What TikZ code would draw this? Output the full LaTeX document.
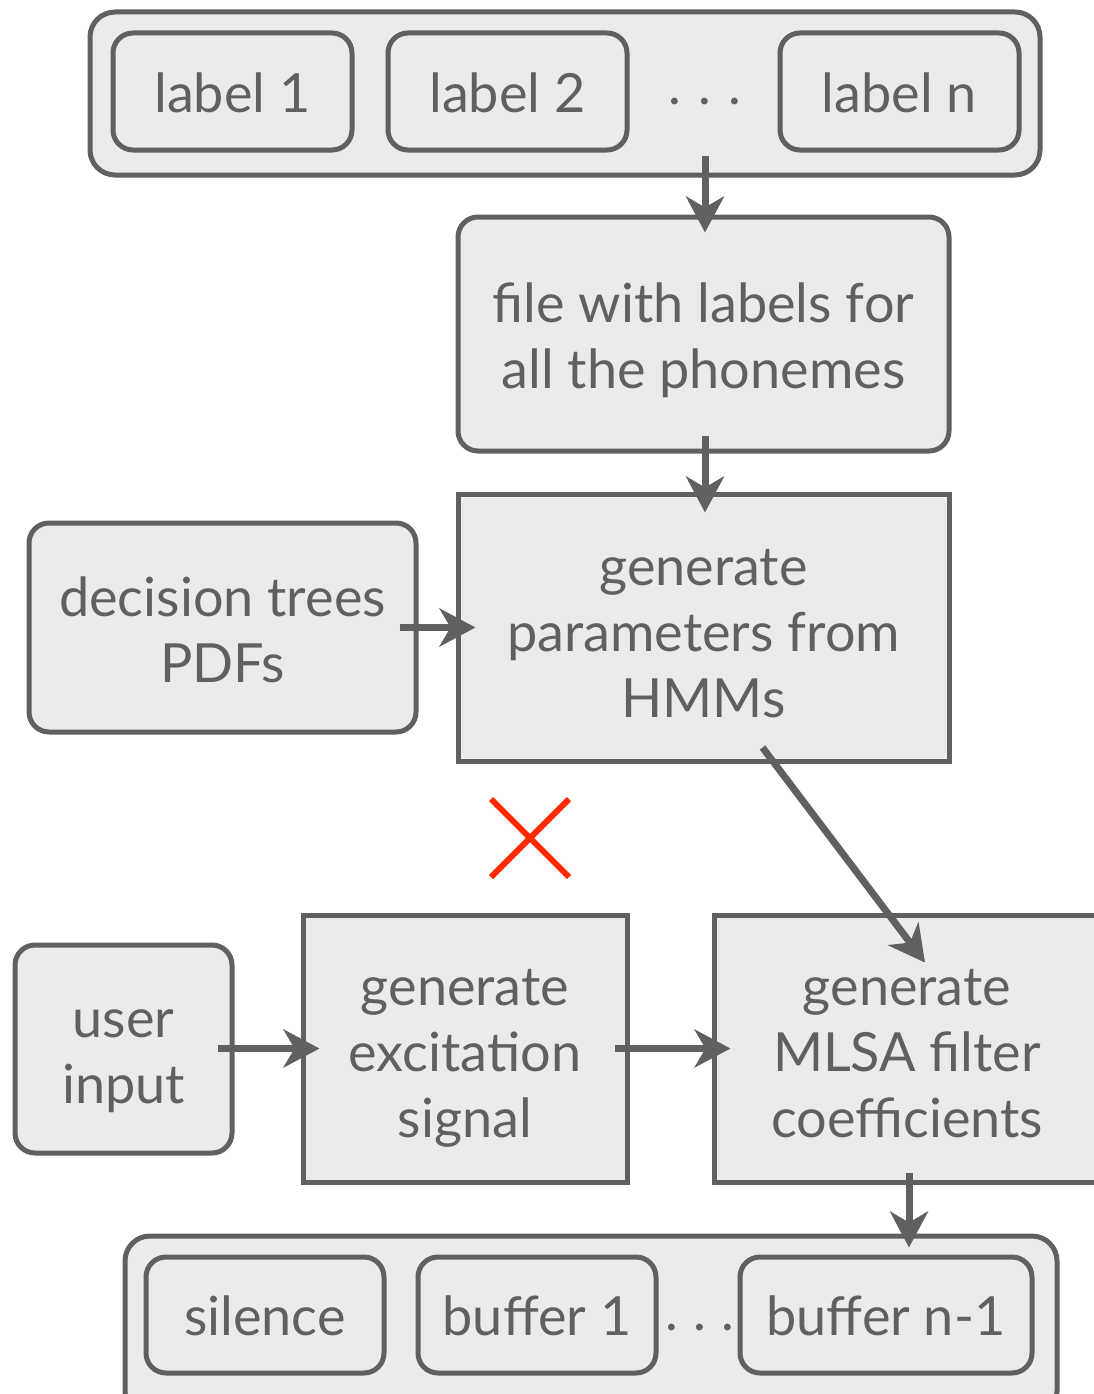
\documentclass[tikz,border=0pt]{standalone}
\usepackage{fontspec}
\setmainfont{Lato}
\usetikzlibrary{arrows.meta}
\definecolor{ink}{HTML}{606060}
\definecolor{boxfill}{HTML}{EBEBEB}
\definecolor{xred}{HTML}{FF2A00}
\begin{document}
\begin{tikzpicture}[x=1pt,y=-1pt,
  base/.style={draw=ink, fill=boxfill, line width=5pt, inner sep=0pt},
  lab/.style={text=ink, inner sep=0pt, align=center, font=\fontsize{54}{66}\selectfont},
  rbox/.style={base, rounded corners=20pt},
  sbox/.style={base},
  txt/.style 2 args={label={[lab, yshift=-#1]center:{#2}}},
  obox/.style={base, rounded corners=25pt},
  dots/.style={text=ink, inner sep=0pt, font=\fontsize{54}{66}\selectfont},
  arr/.style={draw=ink, line width=7pt, -{Stealth[length=36pt,width=38pt,inset=11pt]}}]
\useasboundingbox (0,0) rectangle (1094,1394);
% top group
\node[obox, minimum width=950, minimum height=163] (top) at (565,93.5) {};
\node[rbox, minimum width=239, minimum height=117, txt={1pt}{label 1}] (l1) at (232.5,91.5) {};
\node[rbox, minimum width=239, minimum height=117, txt={1pt}{label 2}] (l2) at (507.5,91.5) {};
\node[dots] (d1) at (705,102) {.\hspace{17pt}.\hspace{17pt}.};
\node[rbox, minimum width=239, minimum height=117, txt={1pt}{label n}] (ln) at (899.5,91.5) {};
% file
\node[rbox, minimum width=491, minimum height=234, txt={6pt}{file with labels for\\all the phonemes}] (file) at (703.5,334) {};
% params
\node[sbox, minimum width=491, minimum height=267, txt={6pt}{generate\\parameters from\\HMMs}] (par) at (703.5,627.5) {};
% decision
\node[rbox, minimum width=387, minimum height=209, txt={2pt}{decision trees\\PDFs}] (dec) at (222.5,627.5) {};
% red cross
\draw[xred, line width=6pt] (491,799) -- (569,877) (491,877) -- (569,799);
% bottom row
\node[rbox, minimum width=217, minimum height=208, txt={12pt}{user\\input}] (usr) at (123.5,1049) {};
\node[sbox, minimum width=324, minimum height=267, txt={10pt}{generate\\excitation\\signal}] (exc) at (465,1048.5) {};
\node[sbox, minimum width=386, minimum height=267, txt={5pt}{generate\\MLSA filter\\coefficients}] (mlsa) at (907,1048.5) {};
% bottom group
\node[obox, minimum width=932, minimum height=180] (bot) at (591,1326) {};
\node[rbox, minimum width=238, minimum height=116, txt={1pt}{silence}] (sil) at (265,1315) {};
\node[rbox, minimum width=238, minimum height=116, txt={1pt}{buffer 1}] (b1) at (537,1315) {};
\node[dots] (d2) at (700,1327) {.\hspace{15pt}.\hspace{15pt}.};
\node[rbox, minimum width=292, minimum height=116, txt={1pt}{buffer n-1}] (bn) at (886,1315) {};
% arrows
\draw[arr] ([yshift=22pt]top.south -| d1.center) -- ([yshift=-18pt]file.north -| d1.center);
\draw[arr] ([yshift=18pt]file.south -| d1.center) -- ([yshift=-21pt]par.north -| d1.center);
\draw[arr] ([xshift=-19pt]dec.east) -- ([xshift=20pt]par.west |- dec.east);
\draw[arr] ([xshift=59pt,yshift=16pt]par.south) -- ([xshift=18pt,yshift=-50pt]mlsa.north);
\draw[arr] ([xshift=-17pt]usr.east |- exc.west) -- ([xshift=19pt]exc.west);
\draw[arr] ([xshift=-15pt]exc.east) -- ([xshift=19pt]mlsa.west);
\draw[arr] ([xshift=2pt,yshift=12pt]mlsa.south) -- ([xshift=2pt,yshift=-14pt]bot.north -| mlsa.south);
\end{tikzpicture}
\end{document}
